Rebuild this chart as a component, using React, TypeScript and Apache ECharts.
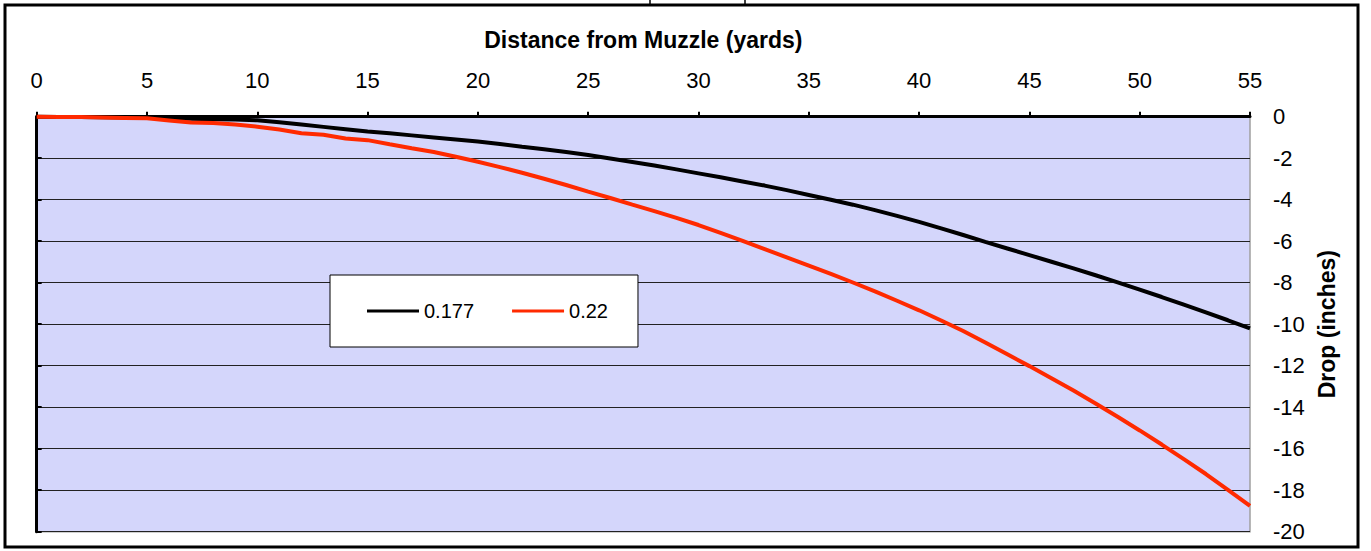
import React, { useEffect, useRef } from "react";
import * as echarts from "echarts";

const yards = [
  0, 1, 2, 3, 4, 5, 6, 7, 8, 9, 10, 11, 12, 13, 14, 15, 16, 17, 18, 19, 20,
  21, 22, 23, 24, 25, 26, 27, 28, 29, 30, 31, 32, 33, 34, 35, 36, 37, 38, 39,
  40, 41, 42, 43, 44, 45, 46, 47, 48, 49, 50, 51, 52, 53, 54, 55,
];

const drop177 = [
  0, -0.01, -0.02, -0.03, -0.04, -0.05, -0.08, -0.1, -0.12, -0.14, -0.17,
  -0.27, -0.38, -0.49, -0.6, -0.71, -0.8, -0.9, -1.0, -1.1, -1.2, -1.32,
  -1.45, -1.57, -1.7, -1.85, -2.01, -2.18, -2.35, -2.54, -2.73, -2.92, -3.12,
  -3.32, -3.54, -3.77, -4.0, -4.24, -4.5, -4.78, -5.07, -5.38, -5.7, -6.03,
  -6.35, -6.67, -6.99, -7.31, -7.64, -7.98, -8.33, -8.69, -9.06, -9.43, -9.81,
  -10.2,
];

const drop22 = [
  0, -0.01, -0.02, -0.04, -0.06, -0.08, -0.18, -0.28, -0.3, -0.38, -0.48,
  -0.62, -0.8, -0.87, -1.05, -1.13, -1.33, -1.52, -1.7, -1.93, -2.17, -2.43,
  -2.7, -2.99, -3.29, -3.61, -3.92, -4.24, -4.55, -4.88, -5.22, -5.6, -5.98,
  -6.38, -6.78, -7.18, -7.58, -7.99, -8.42, -8.87, -9.33, -9.82, -10.33,
  -10.88, -11.45, -12.02, -12.6, -13.2, -13.82, -14.46, -15.12, -15.8,
  -16.5, -17.22, -17.98, -18.75,
];

const seriesNames = ["0.177", "0.22"];
const seriesColors = ["#000000", "#FF2A00"];
const xTitle = "Distance from Muzzle (yards)";
const yTitle = "Drop (inches)";

const FONT = '"Liberation Sans", Arial, sans-serif';

export default function App() {
  const ref = useRef<HTMLDivElement>(null);

  useEffect(() => {
    document.body.style.margin = "0";
    if (!ref.current) return;
    const chart = echarts.init(ref.current, null, { renderer: "svg" });
    const toPairs = (ys: number[]) => yards.map((x, i) => [x, ys[i]]);
    chart.setOption({
      animation: false,
      backgroundColor: "#ffffff",
      textStyle: { fontFamily: FONT },
      grid: {
        left: 36.7,
        right: 121,
        top: 116.7,
        bottom: 19.3,
        show: true,
        backgroundColor: "#D4D6FB",
        borderColor: "#A0A0A0",
        borderWidth: 1.5,
      },
      legend: {
        left: 330,
        top: 275,
        orient: "horizontal",
        backgroundColor: "#ffffff",
        borderColor: "#000000",
        borderWidth: 1,
        padding: [26, 30, 26, 37],
        itemWidth: 52,
        itemHeight: 3,
        itemGap: 38,
        icon: "rect",
        textStyle: { fontSize: 20, color: "#000", fontFamily: FONT },
        data: seriesNames,
      },
      xAxis: {
        type: "value",
        position: "top",
        min: 0,
        max: 55,
        interval: 5,
        name: xTitle,
        nameLocation: "middle",
        nameGap: 65,
        nameTextStyle: {
          fontSize: 23,
          fontWeight: "bold",
          color: "#000",
          fontFamily: FONT,
        },
        axisLine: { show: true, lineStyle: { color: "#000", width: 3 } },
        axisTick: {
          show: true,
          inside: false,
          length: 5,
          lineStyle: { color: "#000", width: 2 },
        },
        axisLabel: {
          fontSize: 22,
          color: "#000",
          margin: 25,
          fontFamily: FONT,
        },
        splitLine: { show: false },
      },
      yAxis: {
        type: "value",
        position: "right",
        min: -20,
        max: 0,
        interval: 2,
        name: yTitle,
        nameLocation: "middle",
        nameRotate: 90,
        nameGap: 65,
        nameTextStyle: {
          fontSize: 23,
          fontWeight: "bold",
          color: "#000",
          fontFamily: FONT,
        },
        axisLine: { show: true, lineStyle: { color: "#000", width: 3 } },
        axisTick: {
          show: true,
          inside: false,
          length: 5,
          lineStyle: { color: "#000", width: 2 },
        },
        axisLabel: {
          fontSize: 22,
          color: "#000",
          margin: 23,
          fontFamily: FONT,
        },
        splitLine: { show: true, lineStyle: { color: "#222", width: 1 } },
      },
      series: [
        {
          name: seriesNames[0],
          type: "line",
          data: toPairs(drop177),
          symbol: "none",
          clip: false,
          color: seriesColors[0],
          lineStyle: { color: seriesColors[0], width: 4 },
        },
        {
          name: seriesNames[1],
          type: "line",
          data: toPairs(drop22),
          symbol: "none",
          clip: false,
          color: seriesColors[1],
          lineStyle: { color: seriesColors[1], width: 4 },
        },
      ],
      graphic: [
        {
          type: "rect",
          shape: { x: 5, y: 5, width: 1353, height: 542 },
          style: { fill: "none", stroke: "#000", lineWidth: 3 },
          silent: true,
          z: 100,
        },
        {
          type: "line",
          shape: { x1: 650, y1: 0, x2: 650, y2: 5 },
          style: { stroke: "#000", lineWidth: 1.5 },
          silent: true,
        },
        {
          type: "line",
          shape: { x1: 745, y1: 0, x2: 745, y2: 5 },
          style: { stroke: "#000", lineWidth: 1.5 },
          silent: true,
        },
      ],
    });
    return () => chart.dispose();
  }, []);

  return (
    <div
      ref={ref}
      style={{
        position: "absolute",
        left: 0,
        top: 0,
        width: 1371,
        height: 551,
      }}
    />
  );
}
